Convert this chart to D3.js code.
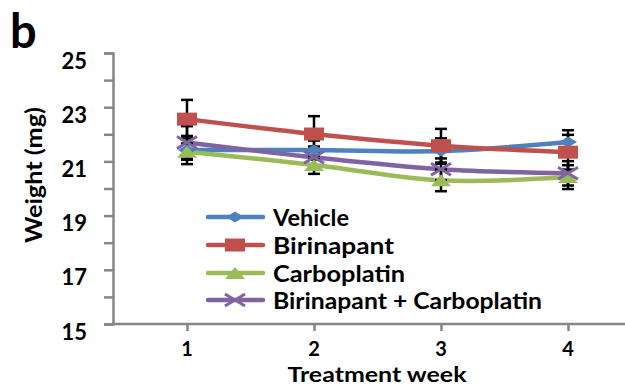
<!DOCTYPE html>
<html><head><meta charset="utf-8">
<script src="https://cdn.jsdelivr.net/npm/d3@7"></script>
<style>body{margin:0;background:#fff}text{font-family:Lato,"Open Sans",sans-serif;font-weight:bold;fill:#000}</style>
</head><body>
<svg id="c" width="625" height="385"></svg>
<script>
const weeks = [1, 2, 3, 4];
const seriesNames = ["Vehicle", "Birinapant", "Carboplatin", "Birinapant + Carboplatin"];
const vehicle = [21.42, 21.42, 21.38, 21.72];
const vehicleErr = [0.52, 0.35, 0.47, 0.43];
const birinapant = [22.56, 22.01, 21.58, 21.34];
const birinapantErr = [0.71, 0.66, 0.62, 0.64];
const carboplatin = [21.36, 20.87, 20.30, 20.42];
const carboplatinErr = [0.30, 0.33, 0.40, 0.44];
const combo = [21.70, 21.15, 20.71, 20.56];
const comboErr = [0.60, 0.40, 0.40, 0.45];
const yTicks = [15, 16, 17, 18, 19, 20, 21, 22, 23, 24, 25];
const yLabels = [15, 17, 19, 21, 23, 25];
const colors = ["#4F81BD", "#C0504D", "#9BBB59", "#8064A2"];
const symbols = ["diamond", "square", "triangle", "x"];

const series = seriesNames.map((n, i) => ({
  name: n, color: colors[i], sym: symbols[i],
  vals: [vehicle, birinapant, carboplatin, combo][i],
  errs: [vehicleErr, birinapantErr, carboplatinErr, comboErr][i]
}));

const svg = d3.select("#c");
const x = d3.scalePoint().domain(weeks).range([187, 568]);
const y = d3.scaleLinear().domain([15, 25]).range([324, 53]);
const axisColor = "#868686";

// y axis
const ya = svg.append("g").attr("transform", "translate(113,0)")
  .call(d3.axisLeft(y).tickValues(yTicks).tickSize(9).tickFormat(""));
ya.select(".domain").attr("stroke", axisColor).attr("stroke-width", 2.5);
ya.selectAll(".tick line").attr("stroke", axisColor).attr("stroke-width", 2.5);
svg.append("g").selectAll("text").data(yLabels).join("text")
  .attr("x", 87).attr("y", d => y(d) + 7).attr("text-anchor", "end")
  .attr("dominant-baseline", "central").style("font-size", "22px").text(d => d);

// x axis
svg.append("line").attr("x1", 112).attr("x2", 625).attr("y1", y(15)).attr("y2", y(15))
  .attr("stroke", axisColor).attr("stroke-width", 2.5);
const xa = svg.append("g").attr("transform", `translate(0,${y(15)})`)
  .call(d3.axisBottom(x).tickSize(7).tickFormat(""));
xa.select(".domain").remove();
xa.selectAll(".tick line").attr("stroke", axisColor).attr("stroke-width", 2.5);
svg.append("g").selectAll("text").data(weeks).join("text")
  .attr("x", d => x(d)).attr("y", 356).attr("text-anchor", "middle")
  .style("font-size", "20px").text(d => d);

svg.append("text").attr("x", 377).attr("y", 382).attr("text-anchor", "middle")
  .style("font-size", "21px").attr("textLength", 179).attr("lengthAdjust", "spacingAndGlyphs")
  .text("Treatment week");
svg.append("text").attr("transform", "translate(42,175) rotate(-90)")
  .attr("text-anchor", "middle").style("font-size", "22px")
  .attr("textLength", 136).attr("lengthAdjust", "spacingAndGlyphs").text("Weight (mg)");
svg.append("text").attr("x", 10).attr("y", 48).style("font-size", "47px").text("b");

const line = d3.line().x((d, i) => x(weeks[i])).y(d => y(d)).curve(d3.curveCardinal.tension(0));

function marker(g, sym, color, cx, cy) {
  const w = 10, h = 6.5;
  if (sym === "diamond") {
    g.append("path").attr("d", `M${cx - 9},${cy}L${cx},${cy - 5.5}L${cx + 9},${cy}L${cx},${cy + 5.5}Z`).attr("fill", color);
  } else if (sym === "square") {
    g.append("rect").attr("x", cx - w).attr("y", cy - h).attr("width", 2 * w).attr("height", 2 * h).attr("fill", color);
  } else if (sym === "triangle") {
    g.append("path").attr("d", `M${cx - 10},${cy + 6}L${cx},${cy - 6}L${cx + 10},${cy + 6}Z`).attr("fill", color);
  } else {
    g.append("path").attr("d", `M${cx - 10},${cy - 6}L${cx + 10},${cy + 6}M${cx - 10},${cy + 6}L${cx + 10},${cy - 6}`)
      .attr("stroke", color).attr("stroke-width", 3).attr("fill", "none");
  }
}

// lines
series.forEach(s => {
  svg.append("path").datum(s.vals).attr("d", line).attr("fill", "none")
    .attr("stroke", s.color).attr("stroke-width", 4.5).attr("stroke-linecap", "round");
});
// error bars
const eb = svg.append("g").attr("stroke", "#000").attr("stroke-width", 2.5);
series.forEach(s => {
  s.vals.forEach((v, i) => {
    const cx = x(weeks[i]);
    const t = y(v + s.errs[i]), b = y(v - s.errs[i]);
    eb.append("line").attr("x1", cx).attr("x2", cx).attr("y1", t).attr("y2", b);
    eb.append("line").attr("x1", cx - 6).attr("x2", cx + 6).attr("y1", t).attr("y2", t);
    eb.append("line").attr("x1", cx - 6).attr("x2", cx + 6).attr("y1", b).attr("y2", b);
  });
});
// markers
series.forEach(s => {
  const g = svg.append("g");
  s.vals.forEach((v, i) => marker(g, s.sym, s.color, x(weeks[i]), y(v)));
});

// legend
const lg = svg.append("g");
const ly = [217, 245, 273, 300];
const lw = [76, 121, 132, 269];
series.forEach((s, i) => {
  lg.append("line").attr("x1", 208).attr("x2", 263).attr("y1", ly[i]).attr("y2", ly[i])
    .attr("stroke", s.color).attr("stroke-width", 4.5).attr("stroke-linecap", "round");
  marker(lg, s.sym, s.color, 235, ly[i]);
});
lg.selectAll("text.l").data(seriesNames).join("text").attr("class", "l")
  .attr("x", 273).attr("y", (d, i) => ly[i]).attr("dominant-baseline", "central")
  .style("font-size", "22px")
  .attr("textLength", (d, i) => lw[i]).attr("lengthAdjust", "spacingAndGlyphs")
  .text(d => d);
</script>
</body></html>
